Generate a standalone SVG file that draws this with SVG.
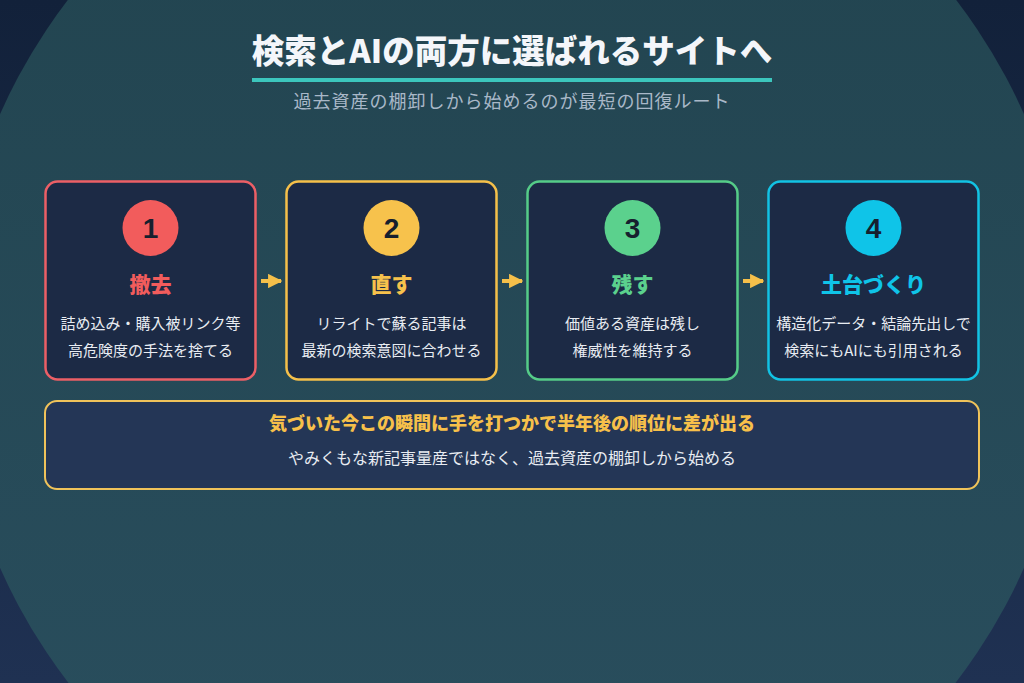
<svg xmlns="http://www.w3.org/2000/svg" width="1024" height="683" viewBox="0 0 1024 683">
<defs>
<linearGradient id="bg" x1="0" y1="0" x2="0" y2="1"><stop offset="0" stop-color="#12213a"/><stop offset="1" stop-color="#1f3152"/></linearGradient>
<linearGradient id="glow" x1="0" y1="0" x2="0" y2="1"><stop offset="0" stop-color="#21434e"/><stop offset="1" stop-color="#2a4f5f"/></linearGradient>
<marker id="ah" viewBox="0 0 10 10" refX="9" refY="5" markerWidth="3.6" markerHeight="3.6" orient="auto"><path d="M0,0 L10,5 L0,10 Z" fill="#f5c04a"/></marker>
<style>
.card{fill:#1c2a45;stroke-width:2.5}
.num{font-family:"Liberation Sans","Noto Sans CJK JP",sans-serif;font-weight:bold;font-size:28px;fill:#16202e;text-anchor:middle}
.head{font-family:"Noto Sans CJK JP",sans-serif;font-weight:900;font-size:21px;text-anchor:middle}
.desc{font-family:"Noto Sans CJK JP",sans-serif;font-size:15px;fill:#e8ecf2;text-anchor:middle}
.conn{stroke:#f5c04a;stroke-width:4;fill:none}
</style>
</defs>
<rect width="1024" height="683" fill="url(#bg)"/>
<circle cx="512" cy="341" r="560" fill="url(#glow)"/>
<g id="title">
<text x="512" y="63" text-anchor="middle" font-family="Noto Sans CJK JP,sans-serif" font-weight="900" font-size="32.5" fill="#f4f6fa">検索とAIの両方に選ばれるサイトへ</text>
<rect x="252" y="78" width="520" height="4" fill="#3cc6bd"/>
<text x="512" y="108" text-anchor="middle" font-family="Noto Sans CJK JP,sans-serif" font-size="18" letter-spacing="1" fill="#a9b8c8">過去資産の棚卸しから始めるのが最短の回復ルート</text>
</g>
<g id="step1">
<rect class="card" x="45.5" y="181.5" width="210" height="198" rx="12" stroke="#ec5f66"/>
<circle cx="150.5" cy="228" r="28" fill="#f25c5c"/>
<text class="num" x="150.5" y="238">1</text>
<text class="head" x="150.5" y="292" fill="#f25c5c">撤去</text>
<text class="desc" x="150.5" y="329">詰め込み・購入被リンク等</text>
<text class="desc" x="150.5" y="356">高危険度の手法を捨てる</text>
</g>
<g id="step2">
<rect class="card" x="286.5" y="181.5" width="210" height="198" rx="12" stroke="#f5c04a"/>
<circle cx="391.5" cy="228" r="28" fill="#f7c24c"/>
<text class="num" x="391.5" y="238">2</text>
<text class="head" x="391.5" y="292" fill="#f7c24c">直す</text>
<text class="desc" x="391.5" y="329">リライトで蘇る記事は</text>
<text class="desc" x="391.5" y="356">最新の検索意図に合わせる</text>
</g>
<g id="step3">
<rect class="card" x="527.5" y="181.5" width="210" height="198" rx="12" stroke="#55cc88"/>
<circle cx="632.5" cy="228" r="28" fill="#5bd18d"/>
<text class="num" x="632.5" y="238">3</text>
<text class="head" x="632.5" y="292" fill="#5bd18d">残す</text>
<text class="desc" x="632.5" y="329">価値ある資産は残し</text>
<text class="desc" x="632.5" y="356">権威性を維持する</text>
</g>
<g id="step4">
<rect class="card" x="768.5" y="181.5" width="210" height="198" rx="12" stroke="#12c2e4"/>
<circle cx="873.5" cy="228" r="28" fill="#0fc4e8"/>
<text class="num" x="873.5" y="238">4</text>
<text class="head" x="873.5" y="292" fill="#0fc4e8">土台づくり</text>
<text class="desc" x="873.5" y="329">構造化データ・結論先出しで</text>
<text class="desc" x="873.5" y="356">検索にもAIにも引用される</text>
</g>
<g id="connectors">
<line class="conn" x1="261" y1="281" x2="281" y2="281" marker-end="url(#ah)"/>
<line class="conn" x1="502" y1="281" x2="522" y2="281" marker-end="url(#ah)"/>
<line class="conn" x1="743" y1="281" x2="763" y2="281" marker-end="url(#ah)"/>
</g>
<g id="summary">
<rect x="45" y="401" width="934" height="88" rx="12" fill="#243656" stroke="#f0c35a" stroke-width="2"/>
<text x="512" y="430" text-anchor="middle" font-family="Noto Sans CJK JP,sans-serif" font-weight="900" font-size="18" fill="#f7c04a">気づいた今この瞬間に手を打つかで半年後の順位に差が出る</text>
<text x="512" y="464" text-anchor="middle" font-family="Noto Sans CJK JP,sans-serif" font-size="16" fill="#e8ecf2">やみくもな新記事量産ではなく、過去資産の棚卸しから始める</text>
</g>
</svg>
